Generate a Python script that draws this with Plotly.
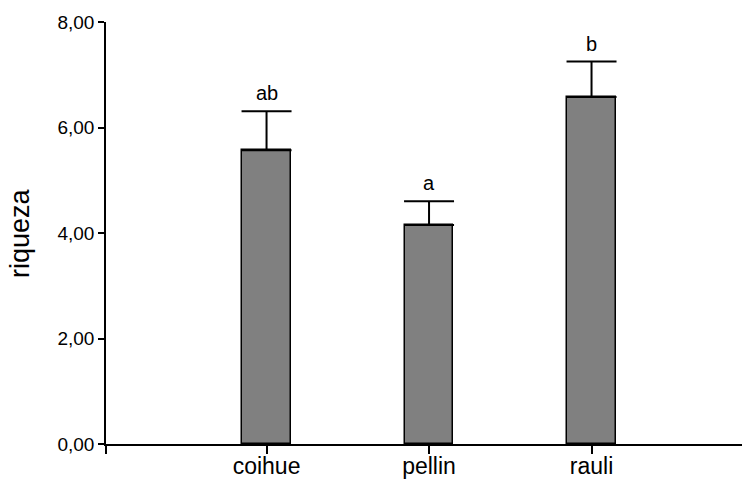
import plotly.graph_objects as go

categories = ["coihue", "pellin", "rauli"]
means = [5.57, 4.15, 6.58]
errors = [0.74, 0.45, 0.67]
letters = ["ab", "a", "b"]
y_ticks = [0, 2, 4, 6, 8]
y_tick_labels = ["0,00", "2,00", "4,00", "6,00", "8,00"]
y_title = "riqueza"

xpos = list(range(len(categories)))
x_left, x_right = -0.988, 2.926

fig = go.Figure()
fig.add_trace(go.Bar(
    x=xpos, y=means, width=0.30,
    marker=dict(color="#808080", line=dict(color="black", width=1.5)),
    error_y=dict(type="data", array=errors, symmetric=False,
                 arrayminus=[0] * len(errors),
                 color="black", thickness=2, width=25),
    showlegend=False,
))

for xi, m, e, t in zip(xpos, means, errors, letters):
    fig.add_annotation(x=xi, y=m + e, text=t, showarrow=False,
                       xanchor="center", yanchor="bottom", yshift=5,
                       font=dict(size=20, color="black", family="Liberation Sans, Arial"))

fig.add_annotation(xref="paper", yref="paper", x=0, y=0.5, xshift=-86,
                   text=y_title, textangle=-90, showarrow=False,
                   xanchor="center", yanchor="middle",
                   font=dict(size=27, color="black", family="Liberation Sans, Arial"))

fig.update_layout(
    width=745, height=481,
    margin=dict(l=106, r=3, t=22, b=37, autoexpand=False),
    plot_bgcolor="white", paper_bgcolor="white",
    font=dict(family="Liberation Sans, Arial", color="black"),
    bargap=0,
    xaxis=dict(
        range=[x_left, x_right],
        automargin=False,
        tickmode="array",
        tickvals=[x_left] + xpos,
        ticktext=[""] + categories,
        ticks="outside", ticklen=8, tickwidth=1.5, tickcolor="black",
        ticklabelstandoff=-7,
        showline=True, linecolor="black", linewidth=1.5,
        showgrid=False, zeroline=False,
        tickfont=dict(size=23, color="black"),
    ),
    yaxis=dict(
        range=[0, 8],
        automargin=False,
        tickmode="array",
        tickvals=y_ticks,
        ticktext=y_tick_labels,
        ticks="outside", ticklen=6, tickwidth=1.5, tickcolor="black",
        showline=True, linecolor="black", linewidth=1.5,
        showgrid=False, zeroline=False,
        tickfont=dict(size=19, color="black"),
    ),
)

fig.write_html("out.html")
